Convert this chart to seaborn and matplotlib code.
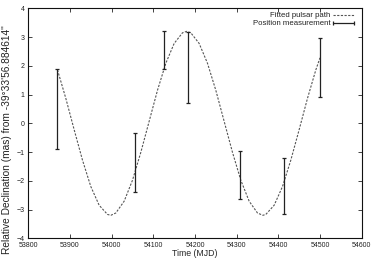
import matplotlib
matplotlib.use("Agg")
import matplotlib.pyplot as plt
import seaborn as sns
import numpy as np
import pandas as pd

# ── Data ─────────────────────────────────────────────────────────────────────
# fitted pulsar path, sampled every ~20 days
path_mjd = [53870, 53890, 53910, 53930, 53950, 53970, 53990, 53998, 54010,
            54030, 54050, 54070, 54090, 54110, 54130, 54150, 54170, 54180,
            54190, 54210, 54230, 54250, 54270, 54290, 54310, 54330, 54350,
            54363, 54370, 54390, 54410, 54430, 54450, 54470, 54490, 54500]
path_dec = [1.86, 0.87, -0.22, -1.28, -2.20, -2.85, -3.17, -3.20, -3.12,
            -2.71, -1.98, -1.01, 0.07, 1.15, 2.09, 2.78, 3.15, 3.20,
            3.15, 2.78, 2.09, 1.15, 0.07, -1.01, -1.98, -2.71, -3.12,
            -3.20, -3.17, -2.85, -2.20, -1.28, -0.22, 0.87, 1.86, 2.28]

# position measurements: epoch, bottom and top of error bar (mas)
meas_mjd = [53870, 54057, 54126, 54184, 54308, 54413, 54500]
meas_low = [-0.90, -2.40, 1.88, 0.72, -2.64, -3.17, 0.93]
meas_high = [1.88, -0.35, 3.21, 3.17, -0.95, -1.20, 2.98]

x_ticks = [53800, 53900, 54000, 54100, 54200, 54300, 54400, 54500, 54600]
y_ticks = [-4, -3, -2, -1, 0, 1, 2, 3, 4]

# ── Style ───────────────────────────────────────────────────────────────────
sns.set_style("ticks")
plt.rcParams["font.family"] = ["Liberation Sans", "DejaVu Sans"]

path = pd.DataFrame({"mjd": path_mjd, "dec": path_dec})
meas = pd.DataFrame({"mjd": meas_mjd, "low": meas_low, "high": meas_high})
meas["mid"] = (meas["low"] + meas["high"]) / 2
meas["err"] = (meas["high"] - meas["low"]) / 2

fig = plt.figure(figsize=(3.74, 2.62), dpi=100)
ax = fig.add_axes([0.0757, 0.0905, 0.8913, 0.8775])

sns.lineplot(data=path, x="mjd", y="dec", ax=ax, sort=False, color="#555555",
             linewidth=0.8, dashes=False)
ax.lines[0].set_dashes([2.0, 1.3])

ax.errorbar(meas["mjd"], meas["mid"], yerr=meas["err"], fmt="none",
            ecolor="#222222", elinewidth=0.9, capsize=1.3, capthick=0.9)

ax.set_xlim(53800, 54600)
ax.set_ylim(-4, 4)
ax.set_xticks(x_ticks)
ax.set_yticks(y_ticks)
ax.tick_params(direction="in", length=3, width=0.6, labelsize=5.0,
               top=True, right=True, colors="#222222", pad=2.5)
for s in ax.spines.values():
    s.set_linewidth(0.8)
    s.set_color("#111111")

ax.set_xlabel("Time (MJD)", fontsize=6.3, labelpad=0.3)
ax.set_ylabel("")
fig.text(7 / 374, 1 - 140 / 262,
         "Relative Declination (mas) from -39\u00b033'56.884614\"",
         rotation=90, ha="center", va="center", fontsize=7.3, color="#222222")

# legend, gnuplot style (text right-aligned, sample on the right)
lx0, lx1 = (333 - 28.3) / 333.3, (354 - 28.3) / 333.3
ty1, ty2 = (238.3 - 15) / 230, (238.3 - 23) / 230
ax.text(lx0 - 0.008, ty1, "Fitted pulsar path", transform=ax.transAxes,
        ha="right", va="center", fontsize=5.6, color="#222222")
ax.text(lx0 - 0.008, ty2, "Position measurement", transform=ax.transAxes,
        ha="right", va="center", fontsize=5.6, color="#222222")
ax.plot([lx0, lx1], [ty1, ty1], transform=ax.transAxes, color="#555555",
        linewidth=0.8, dashes=[2.0, 1.3])
ax.plot([lx0, lx1], [ty2, ty2], transform=ax.transAxes, color="#222222",
        linewidth=0.9, marker="|", markersize=2.6, markeredgewidth=0.9)

fig.savefig("out.png", dpi=100)
